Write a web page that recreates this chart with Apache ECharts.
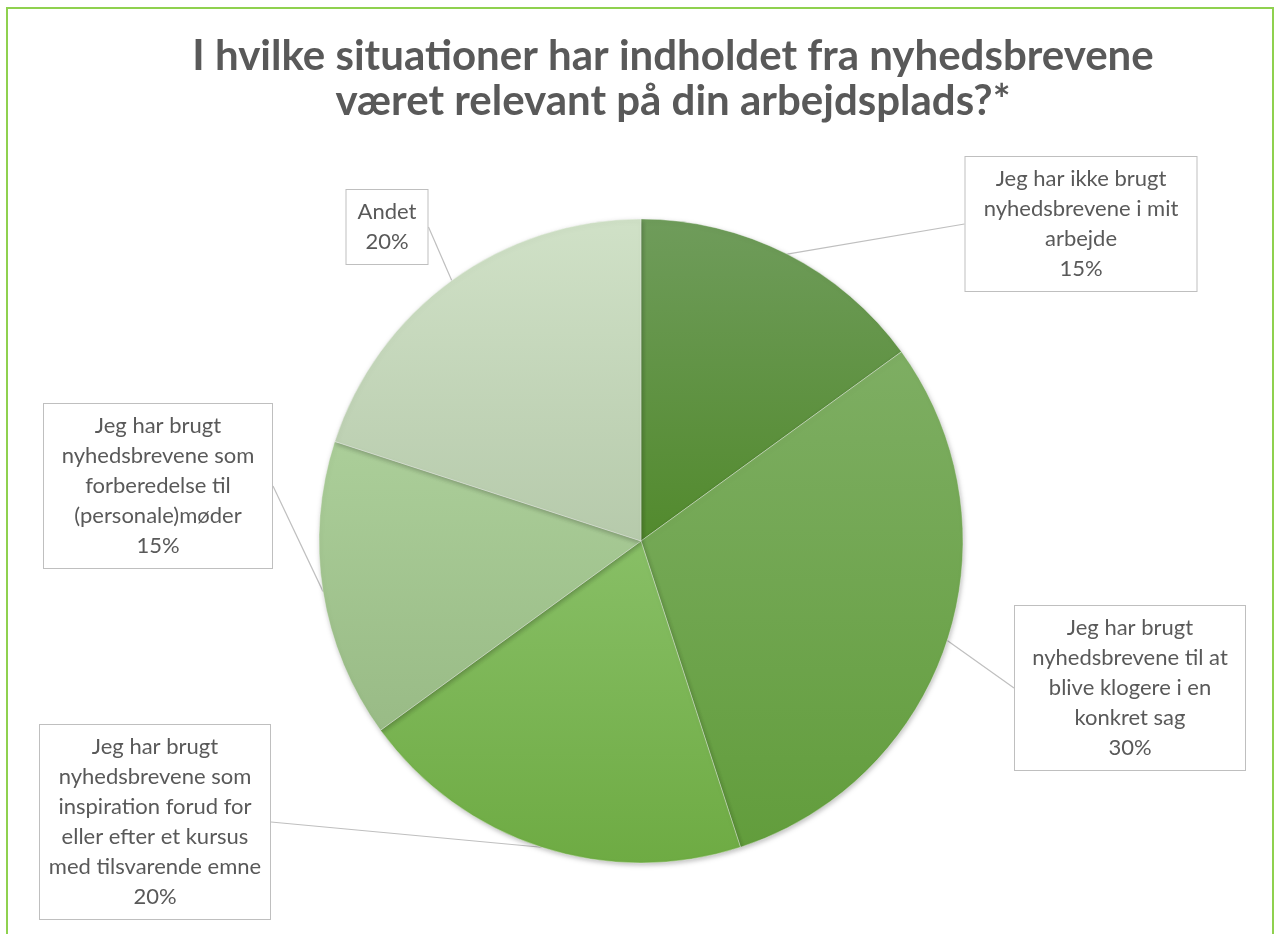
<!DOCTYPE html>
<html>
<head>
<meta charset="utf-8">
<script src="https://cdn.jsdelivr.net/npm/echarts@6/dist/echarts.min.js"></script>
<style>
  html, body { margin: 0; padding: 0; background: #fff; }
  #frame { position: absolute; left: 6px; top: 7px; width: 1268px; height: 940px; border: 2px solid #8fd14f; box-sizing: border-box; }
  #chart { position: absolute; left: 0; top: 0; width: 1279px; height: 934px; }
</style>
</head>
<body>
<div id="frame"></div>
<div id="chart"></div>
<script>
// kategorier (svarmuligheder) og andele i procent
const categories = [
    'Jeg har ikke brugt\nnyhedsbrevene i mit\narbejde',
    'Jeg har brugt\nnyhedsbrevene til at\nblive klogere i en\nkonkret sag',
    'Jeg har brugt\nnyhedsbrevene som\ninspiration forud for\neller efter et kursus\nmed tilsvarende emne',
    'Jeg har brugt\nnyhedsbrevene som\nforberedelse til\n(personale)møder',
    'Andet'
];
const values = [15, 30, 20, 15, 20];

// farver pr. skive: [top, bund] for lodret gradient
const sliceColors = [
    ['#6f9c5b', '#528a2d'],
    ['#7eae63', '#629d3c'],
    ['#88bf66', '#6eab43'],
    ['#abce99', '#99bb86'],
    ['#d0e1c7', '#b6caab']
];
// label-bokse: centrum og indholdsbredde
const boxes = [
    { x: 1081, y: 224, w: 223 },
    { x: 1130, y: 688, w: 222 },
    { x: 155, y: 822, w: 222 },
    { x: 158, y: 486, w: 220 },
    { x: 387, y: 227, w: 73 }
];

const chart = echarts.init(document.getElementById('chart'));
const FONT = 'Lato, "Open Sans", sans-serif';

chart.setOption({
    animation: false,
    title: {
        text: 'I hvilke situationer har indholdet fra nyhedsbrevene\nværet relevant på din arbejdsplads?*',
        left: 668, top: 29, textAlign: 'center',
        textStyle: { fontFamily: FONT, fontSize: 42, fontWeight: 'bold', color: '#595959', lineHeight: 45 }
    },
    series: [{
        type: 'pie',
        center: [641, 541],
        radius: [0, 322],
        startAngle: 90,
        clockwise: true,
        data: categories.map((c, i) => ({
            name: c,
            value: values[i],
            itemStyle: {
                color: new echarts.graphic.LinearGradient(0, 0, 0, 1, [
                    { offset: 0, color: sliceColors[i][0] },
                    { offset: 1, color: sliceColors[i][1] }
                ])
            },
            label: { width: boxes[i].w }
        })),
        itemStyle: { borderColor: 'rgba(255,255,255,0.35)', borderWidth: 1, shadowBlur: 5, shadowColor: 'rgba(0,0,0,0.25)', shadowOffsetX: 1, shadowOffsetY: 2 },
        label: {
            show: true,
            position: 'outside',
            formatter: '{b}\n{d}%',
            fontFamily: FONT,
            fontSize: 22,
            lineHeight: 30,
            color: '#595959',
            align: 'center',
            overflow: 'none',
            backgroundColor: '#fff',
            borderColor: '#bfbfbf',
            borderWidth: 1,
            padding: [7, 4]
        },
        labelLine: { show: true, length: 8, length2: 0, lineStyle: { color: '#bfbfbf', width: 1.2 } },
        labelLayout: function (p) {
            const b = boxes[p.dataIndex];
            return { x: b.x, y: b.y, align: 'center', verticalAlign: 'middle' };
        },
        emphasis: { disabled: true }
    }]
});
</script>
</body>
</html>
